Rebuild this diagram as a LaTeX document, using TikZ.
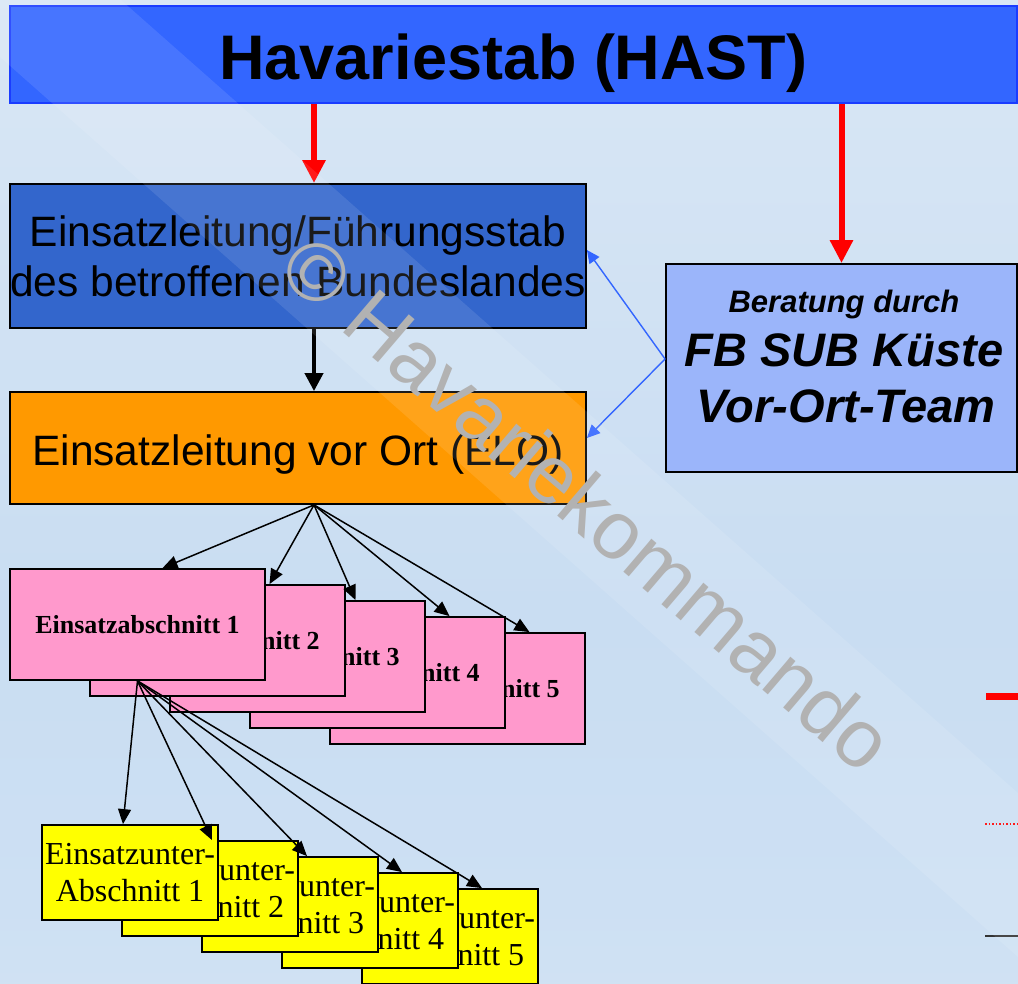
\documentclass[tikz,border=0pt]{standalone}
\usepackage{fontspec}
\setmainfont{Liberation Sans}
\newfontfamily\timesfont{Liberation Serif}
\usepackage{tikz}
\usetikzlibrary{arrows.meta}
\usetikzlibrary{positioning}
\definecolor{bgtop}{HTML}{E6EEF8}
\definecolor{bgupper}{HTML}{D6E5F4}
\definecolor{bgmid}{HTML}{C9DDF2}
\definecolor{bglower}{HTML}{CDE0F3}
\definecolor{bgfoot}{HTML}{DCE8F5}
\definecolor{bgbottom}{HTML}{E6EFF8}
\definecolor{hastfill}{HTML}{3366FF}
\definecolor{hastline}{HTML}{1A3CFF}
\definecolor{landfill}{HTML}{3366CC}
\definecolor{elofill}{HTML}{FF9900}
\definecolor{fbfill}{HTML}{9BB5FA}
\definecolor{eapink}{HTML}{FF99CC}
\definecolor{euyellow}{HTML}{FFFF00}
\definecolor{hintblue}{HTML}{3366FF}
\definecolor{markgray}{HTML}{B2B2B2}
\pgfdeclareverticalshading{hintergrund}{100bp}{color(0bp)=(bgbottom); color(8.5bp)=(bgfoot);
  color(29bp)=(bglower); color(44bp)=(bgmid); color(69.5bp)=(bgupper); color(100bp)=(bgtop)}
\tikzstyle{stabbox}=[rectangle, draw=black, line width=1.8pt, inner sep=0pt, align=center]
\tikzstyle{abschnitt}=[stabbox, fill=eapink, minimum width=255pt, minimum height=111pt,
    font=\timesfont\bfseries\fontsize{26}{30}\selectfont]
\tikzstyle{unterabschnitt}=[stabbox, fill=euyellow, minimum width=176pt, minimum height=95pt,
    font=\timesfont\fontsize{32}{37}\selectfont]
\tikzstyle{fbtext}=[anchor=base, inner sep=0pt, font=\bfseries\itshape\fontsize{47}{55}\selectfont]
\tikzstyle{redarrow}=[draw=red, line width=6pt, -{Triangle[length=23pt,width=22pt]}]
\tikzstyle{blackarrow}=[draw=black, line width=4pt, -{Triangle[length=18pt,width=18pt]}]
\tikzstyle{thinarrow}=[draw=black, line width=1.5pt, -{Triangle[length=15pt,width=13pt]}]
\tikzstyle{bluearrow}=[draw=hintblue, line width=1.4pt, -{Triangle[length=13pt,width=12pt]}]
\begin{document}
\begin{tikzpicture}[x=1pt, y=-1pt]
  \useasboundingbox (0,0) rectangle (1018,984);
  \shade[shading=hintergrund] (0,0) rectangle (1018,984);
  % Leitungsebenen
  \node[stabbox, draw=hastline, fill=hastfill, minimum width=1007pt, minimum height=97pt,
    font=\bfseries\fontsize{63}{70}\selectfont, text height=51pt, text depth=0pt] (hast) at (513.5,54.5) {Havariestab (HAST)};
  \node[stabbox, fill=landfill, minimum width=576pt, minimum height=144pt,
    font=\fontsize{42.5}{50}\selectfont] (land) at (298,256) {Einsatzleitung/Führungsstab\\des betroffenen Bundeslandes};
  \node[stabbox, fill=elofill, minimum width=576pt, minimum height=112pt,
    font=\fontsize{42.5}{50}\selectfont, text height=34pt, text depth=0pt] (elo) at (298,448) {Einsatzleitung vor Ort (ELO)};
  \node[stabbox, fill=fbfill, minimum width=351pt, minimum height=208pt] (fb) at (841.5,368) {};
  \node[fbtext, font=\bfseries\itshape\fontsize{31}{36}\selectfont] (fbberatung) at (844,313) {Beratung durch};
  \node[fbtext] (fbsub) at (844,367) {FB SUB Küste};
  \node[fbtext] (fbteam) at (846,423) {Vor-Ort-Team};
  % Abschnitte, hinterster zuerst
  \foreach \i in {5,4,3,2,1}
    \node[abschnitt] (ea\i) at ({137.5+80*(\i-1)},{624.5+16*(\i-1)}) {Einsatzabschnitt \i};
  \foreach \i in {5,4,3,2,1}
    \node[unterabschnitt] (eu\i) at ({130+80*(\i-1)},{872.5+16*(\i-1)}) {Einsatzunter-\\Abschnitt \i};
  % Verbindungen
  \draw[redarrow] ([xshift=16]land.north |- hast.south) -- ([xshift=16]land.north);
  \draw[redarrow] (fb.north |- hast.south) -- (fb.north);
  \draw[blackarrow] ([xshift=16]land.south) -- ([xshift=16]elo.north);
  \draw[bluearrow] ([yshift=9]fb.west) -- ([yshift=6]land.east);
  \draw[bluearrow] ([yshift=9]fb.west) -- ([yshift=10]elo.east);
  \foreach \i/\s in {1/25,2/52,3/58,4/72,5/72}
    \draw[thinarrow] ([xshift=16]elo.south) -- ([xshift=\s]ea\i.north);
  \foreach \i/\s in {1/-7,2/2,3/17,4/32,5/32}
    \draw[thinarrow] (ea1.south) -- ([xshift=\s]eu\i.north);
  % Legende am Rand
  \draw[red, line width=7pt] (986,696) -- (1018,696);
  \draw[red, line width=1.5pt, dotted] (985,824) -- (1018,824);
  \draw[black!80, line width=2pt] (985,936) -- (1018,936);
  % Lichtband und Wasserzeichen
  \fill[white, opacity=0.1] (0,0) -- (121,0) -- (1018,793) -- (1018,957) -- (0,57) -- cycle;
  \node[text=markgray, rotate=-40.5, font=\fontsize{82}{90}\selectfont] (wasserzeichen) at (588,503) {© Havariekommando};
\end{tikzpicture}
\end{document}
